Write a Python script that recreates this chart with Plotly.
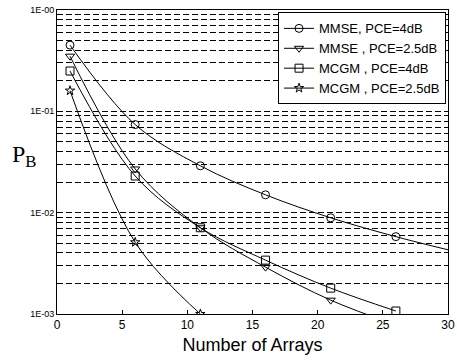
import plotly.graph_objects as go

x_arrays = [1, 6, 11, 16, 21, 26]
mmse_4db = [0.45, 0.074, 0.029, 0.015, 0.0089, 0.0058]
x_mmse_4_line = [1, 6, 11, 16, 21, 26, 30]
mmse_4db_line = mmse_4db + [0.0043]
mmse_25db = [0.35, 0.027, 0.0071, 0.0029, 0.00137, 0.00078]
mcgm_4db = [0.25, 0.023, 0.0071, 0.0034, 0.0018, 0.00107]
x_mcgm_25 = [1, 6, 11]
mcgm_25db = [0.16, 0.0051, 0.001]

names = ["MMSE, PCE=4dB", "MMSE , PCE=2.5dB", "MCGM , PCE=4dB", "MCGM , PCE=2.5dB"]
symbols = ["circle-open", "triangle-down-open", "square-open", "star-open"]
sizes = [8, 8, 8, 7]

fig = go.Figure()
series = [
    (x_mmse_4_line, mmse_4db_line, x_arrays, mmse_4db),
    (x_arrays, mmse_25db, x_arrays, mmse_25db),
    (x_arrays, mcgm_4db, x_arrays, mcgm_4db),
    (x_mcgm_25, mcgm_25db, x_mcgm_25, mcgm_25db),
]
for i, (lx, ly, mx, my) in enumerate(series):
    fig.add_trace(go.Scatter(x=lx, y=ly, mode="lines",
                             line=dict(color="black", width=1, shape="spline", smoothing=1.0),
                             showlegend=False, hoverinfo="skip"))
    fig.add_trace(go.Scatter(x=mx, y=my, mode="markers", showlegend=False,
                             marker=dict(symbol=symbols[i], size=sizes[i], color="black",
                                         line=dict(color="black", width=1))))
for i in range(4):
    fig.add_trace(go.Scatter(x=[None], y=[None], mode="lines+markers", name=names[i],
                             line=dict(color="black", width=1),
                             marker=dict(symbol=symbols[i], size=sizes[i], color="black",
                                         line=dict(color="black", width=1))))

grid = dict(gridcolor="black", griddash="6px,3px", gridwidth=1)
fig.update_layout(
    width=457, height=361,
    margin=dict(l=57, r=9, t=10, b=47, autoexpand=False),
    paper_bgcolor="white", plot_bgcolor="white",
    font=dict(family="Liberation Sans, Arial, sans-serif", color="black"),
    legend=dict(x=0.995, y=0.992, xanchor="right", yanchor="top",
                bgcolor="white", bordercolor="black", borderwidth=1,
                font=dict(size=13), tracegroupgap=0, itemwidth=30),
    xaxis=dict(range=[0, 30], tickvals=[0, 5, 10, 15, 20, 25, 30], showgrid=False,
               showline=True, linecolor="black", linewidth=1, mirror=True,
               ticks="inside", ticklen=4, tickcolor="black", automargin=False,
               tickfont=dict(size=12), zeroline=False,
               title=dict(text="Number of Arrays", font=dict(size=18), standoff=6)),
    yaxis=dict(type="log", range=[-3, 0], tickvals=[0.001, 0.01, 0.1, 1],
               ticktext=["1E-03", "1E-02", "1E-01", "1E-00"], automargin=False,
               tickfont=dict(size=9), showline=True, linecolor="black", linewidth=1, mirror=True,
               ticks="", showgrid=True, **grid,
               minor=dict(dtick="D1", showgrid=True, ticks="", **grid)),
)

fig.add_annotation(text="P<sub>B</sub>", xref="paper", yref="paper", x=-0.082, y=0.52,
                   showarrow=False, font=dict(family="Liberation Serif, serif", size=24, color="black"),
                   xanchor="center", yanchor="middle")

fig.write_html("out.html", config={"displayModeBar": False},
               post_script="document.body.style.margin='0';")
